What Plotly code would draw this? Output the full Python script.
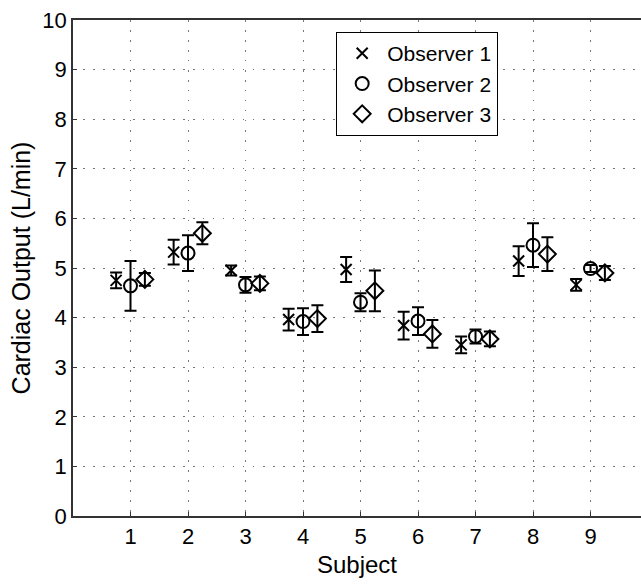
import plotly.graph_objects as go

subjects = [1, 2, 3, 4, 5, 6, 7, 8, 9]
obs_names = ["Observer 1", "Observer 2", "Observer 3"]
obs1_mean = [4.75, 5.32, 4.95, 3.96, 4.97, 3.84, 3.45, 5.14, 4.66]
obs1_err = [0.16, 0.25, 0.10, 0.22, 0.25, 0.28, 0.17, 0.30, 0.12]
obs2_mean = [4.64, 5.30, 4.66, 3.92, 4.31, 3.93, 3.62, 5.46, 4.99]
obs2_err = [0.50, 0.36, 0.16, 0.27, 0.18, 0.28, 0.14, 0.44, 0.07]
obs3_mean = [4.77, 5.70, 4.69, 3.98, 4.54, 3.67, 3.57, 5.28, 4.90]
obs3_err = [0.13, 0.22, 0.14, 0.27, 0.41, 0.28, 0.15, 0.34, 0.14]
offsets = [-0.25, 0.0, 0.25]
symbols = ["x-thin-open", "circle-open", "diamond-open"]
sizes = [11, 13, 13]

means = [obs1_mean, obs2_mean, obs3_mean]
errs = [obs1_err, obs2_err, obs3_err]

fig = go.Figure()
for name, m, e, off, sym, sz in zip(obs_names, means, errs, offsets, symbols, sizes):
    fig.add_trace(go.Scatter(
        x=[s + off for s in subjects], y=m, mode="markers", name=name,
        marker=dict(symbol=sym, size=sz, color="black", line=dict(color="black", width=2)),
        error_y=dict(type="data", array=e, visible=True, color="black", thickness=2, width=6),
    ))

font = "Liberation Sans, Arial, sans-serif"
grid = dict(showgrid=True, gridcolor="#777777", griddash="1.5px,8.5px", gridwidth=1.2)
fig.update_layout(
    width=641, height=586, autosize=False,
    margin=dict(l=73, r=0, t=20, b=70),
    paper_bgcolor="white", plot_bgcolor="white",
    font=dict(family=font, color="black", size=22),
    showlegend=True,
    legend=dict(x=0.463, y=0.976, xanchor="left", yanchor="top",
                bgcolor="white", bordercolor="black", borderwidth=1.2,
                font=dict(size=21, family=font, color="black"),
                itemwidth=40),
    xaxis=dict(range=[0, 9.878], tickvals=subjects, ticktext=[str(s) for s in subjects],
               showline=True, linecolor="#333333", linewidth=1.5, mirror=True,
               ticks="inside", ticklen=4, tickcolor="#333333", zeroline=False,
               tickfont=dict(size=22), title=dict(text="Subject", font=dict(size=24), standoff=8),
               **grid),
    yaxis=dict(range=[0, 10], tickvals=list(range(0, 11)),
               showline=True, linecolor="#333333", linewidth=1.5, mirror=False,
               ticks="inside", ticklen=4, tickcolor="#333333", zeroline=False,
               tickfont=dict(size=22), title=dict(text="Cardiac Output (L/min)", font=dict(size=25), standoff=5),
               **grid),
)

fig.write_html(
    "out.html",
    config={"displayModeBar": False},
    post_script=(
        "var s=document.createElement('style');"
        "s.textContent='::-webkit-scrollbar{display:none;width:0;height:0}"
        "html,body{margin:0;padding:0;overflow:hidden;width:641px;height:586px}';"
        "document.head.appendChild(s);"
    ),
)
